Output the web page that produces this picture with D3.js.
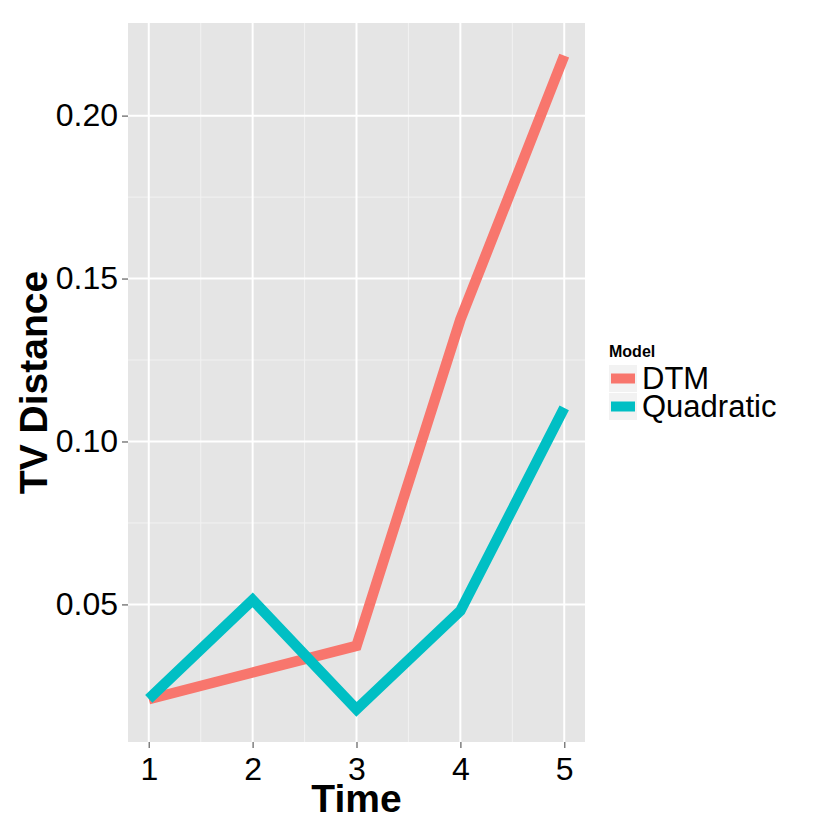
<!DOCTYPE html>
<html>
<head>
<meta charset="utf-8">
<script src="https://cdn.jsdelivr.net/npm/d3@7"></script>
<style>
body { margin: 0; background: #fff; }
text { font-family: "Liberation Sans", Arial, sans-serif; }
</style>
</head>
<body>
<div id="chart"></div>
<script>
// data
var times = [1, 2, 3, 4, 5];
var dtm = [0.0209, 0.0291, 0.0373, 0.1374, 0.2184];
var quadratic = [0.0210, 0.0514, 0.0178, 0.0480, 0.1103];
var seriesNames = ["DTM", "Quadratic"];
var seriesColors = ["#F8766D", "#00BFC4"];
var yTicks = [0.05, 0.10, 0.15, 0.20];
var yMinor = [0.075, 0.125, 0.175];
var xMinor = [1.5, 2.5, 3.5, 4.5];

var w = 830, h = 830;
// panel edges (not "top": that name is taken by window.top)
var pLeft = 128, pRight = 585, pTop = 23, pBottom = 742;

var svg = d3.select("#chart").append("svg")
  .attr("width", w)
  .attr("height", h);

// ggplot style expansion of the ranges
var allY = dtm.concat(quadratic);
var yMin = d3.min(allY), yMax = d3.max(allY);
var yPad = (yMax - yMin) * 0.05;

var x = d3.scaleLinear().domain([0.8, 5.2]).range([pLeft, pRight]);
var y = d3.scaleLinear().domain([yMin - yPad, yMax + yPad]).range([pBottom, pTop]);

// panel
svg.append("rect")
  .attr("x", pLeft).attr("y", pTop)
  .attr("width", pRight - pLeft).attr("height", pBottom - pTop)
  .attr("fill", "#E5E5E5");

// minor grid
svg.selectAll(".ymin").data(yMinor).enter().append("line")
  .attr("x1", pLeft).attr("x2", pRight)
  .attr("y1", function(d) { return y(d); }).attr("y2", function(d) { return y(d); })
  .attr("stroke", "#F2F2F2").attr("stroke-width", 1);
svg.selectAll(".xmin").data(xMinor).enter().append("line")
  .attr("y1", pTop).attr("y2", pBottom)
  .attr("x1", function(d) { return x(d); }).attr("x2", function(d) { return x(d); })
  .attr("stroke", "#F2F2F2").attr("stroke-width", 1);

// major grid
svg.selectAll(".ymaj").data(yTicks).enter().append("line")
  .attr("x1", pLeft).attr("x2", pRight)
  .attr("y1", function(d) { return y(d); }).attr("y2", function(d) { return y(d); })
  .attr("stroke", "#fff").attr("stroke-width", 2);
svg.selectAll(".xmaj").data(times).enter().append("line")
  .attr("y1", pTop).attr("y2", pBottom)
  .attr("x1", function(d) { return x(d); }).attr("x2", function(d) { return x(d); })
  .attr("stroke", "#fff").attr("stroke-width", 2);

// axes
var xAxis = svg.append("g")
  .attr("transform", "translate(0," + pBottom + ")")
  .call(d3.axisBottom(x).tickValues(times).tickFormat(d3.format("d")).tickSize(6).tickPadding(3));
var yAxis = svg.append("g")
  .attr("transform", "translate(" + pLeft + ",0)")
  .call(d3.axisLeft(y).tickValues(yTicks).tickFormat(d3.format(".2f")).tickSize(6).tickPadding(4));
[xAxis, yAxis].forEach(function(a) {
  a.select(".domain").remove();
  a.selectAll(".tick line").attr("stroke", "#7F7F7F").attr("stroke-width", 1.5);
  a.selectAll(".tick text").attr("fill", "#000").attr("font-size", "32px")
    .attr("font-family", "Liberation Sans, Arial, sans-serif");
});
xAxis.selectAll(".tick text").attr("dy", "0.9em");

// lines
var line = d3.line()
  .x(function(d, i) { return x(times[i]); })
  .y(function(d) { return y(d); });

[dtm, quadratic].forEach(function(s, k) {
  svg.append("path")
    .datum(s)
    .attr("d", line)
    .attr("fill", "none")
    .attr("stroke", seriesColors[k])
    .attr("stroke-width", 10.5);
});

// axis titles
svg.append("text")
  .attr("x", (pLeft + pRight) / 2).attr("y", 812)
  .attr("text-anchor", "middle")
  .attr("font-size", "39px").attr("font-weight", "bold")
  .text("Time");
svg.append("text")
  .attr("transform", "translate(47," + ((pTop + pBottom) / 2) + ") rotate(-90)")
  .attr("text-anchor", "middle")
  .attr("font-size", "39px").attr("font-weight", "bold")
  .text("TV Distance");

// legend
var legend = svg.append("g").attr("transform", "translate(609,357)");
legend.append("text")
  .attr("x", 0).attr("y", 0)
  .attr("font-size", "16px").attr("font-weight", "bold")
  .text("Model");
seriesNames.forEach(function(n, i) {
  var g = legend.append("g").attr("transform", "translate(0," + (8 + i * 28) + ")");
  g.append("rect").attr("width", 28).attr("height", 27).attr("fill", "#F2F2F2");
  g.append("rect").attr("x", 2).attr("y", 8.5).attr("width", 24).attr("height", 10)
    .attr("fill", seriesColors[i]);
  g.append("text").attr("x", 33).attr("y", 24)
    .attr("font-size", "31px").text(n);
});
</script>
</body>
</html>
